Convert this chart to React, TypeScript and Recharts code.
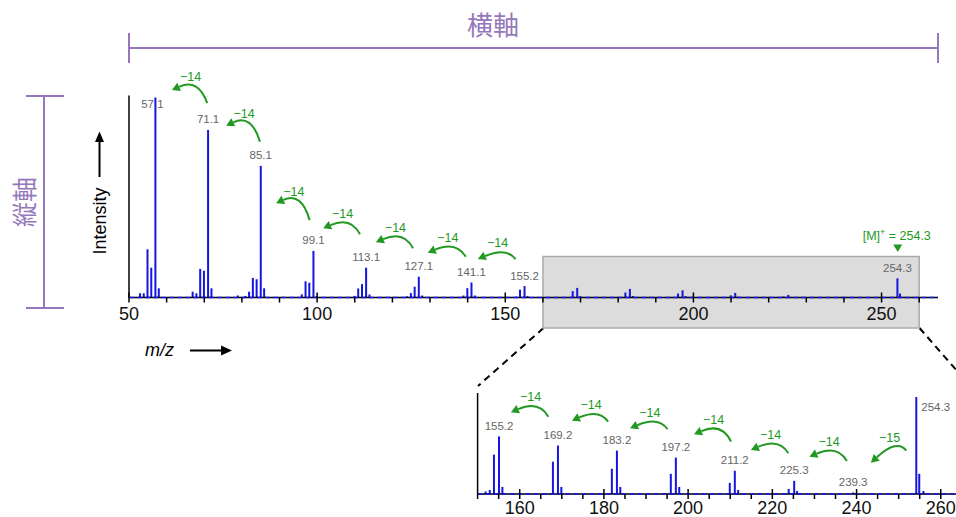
import React from "react";
import {
  ComposedChart,
  Bar,
  XAxis,
  YAxis,
  ReferenceLine,
  ReferenceArea,
  ReferenceDot,
  LabelList,
} from "recharts";

// peaks (m/z, relative intensity in %)
const peakMz = [
  53, 54, 55, 56, 57.1, 58, 67, 68, 69, 70, 71.1, 72, 79, 81, 82, 83, 84, 85.1, 86,
  96, 97, 98, 99.1, 100, 110, 111, 112, 113.1, 114, 124, 125, 126, 127.1, 128, 139,
  140, 141.1, 142, 152, 153, 154, 155.2, 156, 168, 169.2, 170, 182, 183.2, 184, 196,
  197.2, 198, 210, 211.2, 212, 224, 225.3, 226, 239.3, 254.3, 255, 256,
];
const peakIntensity = [
  2.1, 2.1, 24.1, 14.9, 100, 4.6, 2.9, 2.1, 14.3, 13.4, 83.8, 4.6, 1.0, 0.8, 2.9, 9.8,
  9.1, 65.8, 4.6, 1.6, 8.1, 7.4, 23.3, 0.8, 0.8, 4.5, 6.7, 14.9, 1.5, 0.6, 2.2, 5.4,
  10.4, 1.0, 1.0, 4.7, 7.5, 1.0, 0.25, 0.4, 3.9, 5.7, 0.7, 3.2, 4.8, 0.7, 2.5, 4.3,
  0.7, 2.0, 3.6, 0.7, 1.1, 2.3, 0.4, 0.5, 1.3, 0.3, 0.15, 9.6, 2.0, 0.3,
];

const mainLabelMz = [57.1, 71.1, 85.1, 99.1, 113.1, 127.1, 141.1, 155.2, 254.3];
const insetLabelMz = [155.2, 169.2, 183.2, 197.2, 211.2, 225.3, 239.3, 254.3];

const mainTicks = [50, 60, 70, 80, 90, 100, 110, 120, 130, 140, 150, 160, 170, 180, 190, 200, 210, 220, 230, 240, 250, 260];
const insetTicks = [150, 155, 160, 165, 170, 175, 180, 185, 190, 195, 200, 205, 210, 215, 220, 225, 230, 235, 240, 245, 250, 255, 260];

// CH2 loss arrows (right end -> arrow tip), main spectrum
const mainShiftFrom = [70.8, 84.8, 98.0, 111.4, 125.5, 139.5, 152.7];
const mainShiftTo = [61.4, 75.8, 89.1, 101.6, 115.6, 129.4, 142.7];
const mainShiftFromY = [97.2, 77.9, 38.7, 31.6, 24.6, 20.4, 19.2];
const mainShiftToY = [103.7, 85.9, 47.1, 34.6, 27.6, 22.4, 19.2];
const mainShiftText = ["\u221214", "\u221214", "\u221214", "\u221214", "\u221214", "\u221214", "\u221214"];

// same, zoomed inset
const insetShiftFrom = [166.8, 181.0, 195.1, 210.2, 223.8, 237.7, 251.8];
const insetShiftTo = [157.9, 172.4, 186.2, 201.4, 214.9, 228.8, 243.4];
const insetShiftFromY = [7.65, 7.16, 6.41, 5.18, 4.03, 3.27, 4.29];
const insetShiftToY = [8.09, 7.26, 6.5, 5.91, 4.36, 3.69, 3.1];
const insetShiftText = ["\u221214", "\u221214", "\u221214", "\u221214", "\u221214", "\u221214", "\u221215"];

const molecularIon = 254.3;
const markerLevel = 24.75;
const zoomRange = [160, 260];

const BLUE = "#1515e0";
const GREEN = "#229922";
const PURPLE = "#9478bb";
const GRAY_TEXT = "#666";

const mainData = peakMz.map((mz, i) => ({
  mz,
  intensity: peakIntensity[i],
  label: mainLabelMz.includes(mz) ? mz.toFixed(1) : undefined,
}));

const insetData = peakMz
  .map((mz, i) => ({
    mz,
    intensity: peakIntensity[i],
    label: insetLabelMz.includes(mz) ? mz.toFixed(1) : undefined,
  }))
  .filter((d) => d.mz >= 150);

function CurvedArrow(props: any) {
  const { x1, y1, x2, y2, text } = props;
  const cx = x1 - 0.25 * (x1 - x2);
  const cy = Math.min(y1, y2) - 12;
  const dx = x2 - cx;
  const dy = y2 - cy;
  const len = Math.hypot(dx, dy) || 1;
  const ux = dx / len;
  const uy = dy / len;
  const bx = x2 - ux * 8;
  const by = y2 - uy * 8;
  const midY = 0.25 * y1 + 0.5 * cy + 0.25 * y2;
  return (
    <g>
      <path d={`M${x1},${y1} Q${cx},${cy} ${bx},${by}`} fill="none" stroke={GREEN} strokeWidth={2} />
      <polygon
        points={`${x2},${y2} ${bx - uy * 4.5},${by + ux * 4.5} ${bx + uy * 4.5},${by - ux * 4.5}`}
        fill={GREEN}
      />
      <text x={(x1 + x2) / 2 + 1} y={midY - 6} textAnchor="middle" fontSize={12.5} fill={GREEN}>
        {text}
      </text>
    </g>
  );
}

const makeLabel = (tallLimit: number, side: boolean) => (props: any) => {
  const vb = props.viewBox ?? props;
  const { x, y, width, height } = vb;
  const value = props.value;
  if (value === undefined || value === null || value === "") return null;
  const cx = x + width / 2;
  if (height > tallLimit) {
    if (side) {
      return (
        <text x={cx + 5} y={y + 14} fontSize={11.5} fill={GRAY_TEXT}>
          {value}
        </text>
      );
    }
    return (
      <text x={cx - 3} y={y + 10} textAnchor="middle" fontSize={11.5} fill={GRAY_TEXT}>
        {value}
      </text>
    );
  }
  return (
    <text x={cx} y={y - 6.5} textAnchor="middle" fontSize={11.5} fill={GRAY_TEXT}>
      {value}
    </text>
  );
};

const makeTick = (labelEvery: number, labelGap: number) => (props: any) => {
  const { x, y, payload } = props;
  const v = payload.value;
  const major = v % labelEvery === 0;
  return (
    <g>
      <line x1={x} x2={x} y1={major ? y - 5 : y} y2={y + 5} stroke="#000" strokeWidth={1.5} />
      {major && (
        <text x={x} y={y + labelGap} textAnchor="middle" fontSize={18} fill="#111">
          {v}
        </text>
      )}
    </g>
  );
};

function MarkerShape(props: any) {
  const { cx, cy } = props;
  return (
    <g>
      <polygon points={`${cx - 4.5},${cy - 3.5} ${cx + 4.5},${cy - 3.5} ${cx},${cy + 4}`} fill={GREEN} />
      <text x={cx - 1} y={cy - 8} textAnchor="middle" fontSize={12.5} fill={GREEN}>
        [M]
        <tspan fontSize={9} dy={-5}>+</tspan>
        <tspan dy={5}> = {molecularIon.toFixed(1)}</tspan>
      </text>
    </g>
  );
}

export default function App() {
  return (
    <div
      style={{
        position: "absolute",
        left: 0,
        top: 0,
        width: 956,
        height: 517,
        overflow: "hidden",
        background: "#fff",
        fontFamily: "'Liberation Sans', Arial, sans-serif",
      }}
    >
      <svg width={956} height={517} style={{ position: "absolute", left: 0, top: 0 }}>
        <text x={493} y={35} textAnchor="middle" fontSize={26} fill={PURPLE} fontFamily="'Noto Sans CJK JP'">
          横軸
        </text>
        <line x1={129} y1={48} x2={938} y2={48} stroke={PURPLE} strokeWidth={2} />
        <line x1={129} y1={33} x2={129} y2={63} stroke={PURPLE} strokeWidth={2} />
        <line x1={938} y1={33} x2={938} y2={63} stroke={PURPLE} strokeWidth={2} />

        <line x1={44} y1={96} x2={44} y2={308} stroke={PURPLE} strokeWidth={2} />
        <line x1={26} y1={96} x2={64} y2={96} stroke={PURPLE} strokeWidth={2} />
        <line x1={26} y1={308} x2={64} y2={308} stroke={PURPLE} strokeWidth={2} />
        <text
          transform="translate(22.5,202) rotate(-90)"
          textAnchor="middle"
          dominantBaseline="central"
          fontSize={25}
          fill={PURPLE}
          fontFamily="'Noto Sans CJK JP'"
        >
          縦軸
        </text>

        <text transform="translate(106,221) rotate(-90)" textAnchor="middle" fontSize={18} fill="#000">
          Intensity
        </text>
        <line x1={99.5} y1={177} x2={99.5} y2={140} stroke="#000" strokeWidth={2} />
        <polygon points="99.5,131.5 95,142 104,142" fill="#000" />

        <text x={145} y={356} fontSize={18} fontStyle="italic" fill="#000">
          m/z
        </text>
        <line x1={190} y1={350.5} x2={223} y2={350.5} stroke="#000" strokeWidth={2} />
        <polygon points="232,350.5 221,345.5 221,355.5" fill="#000" />

        <line x1={543.5} y1={328} x2={478} y2={386} stroke="#000" strokeWidth={2} strokeDasharray="7 5" />
        <line x1={919.5} y1={328} x2={965} y2={380} stroke="#000" strokeWidth={2} strokeDasharray="7 5" />
      </svg>

      <div style={{ position: "absolute", left: 0, top: 0 }}>
        <ComposedChart
          width={956}
          height={517}
          data={mainData}
          margin={{ top: 95.5, right: 18, bottom: 189.5, left: 128 }}
        >
          <ReferenceArea
            x1={zoomRange[0]}
            x2={zoomRange[1]}
            y1={-15.25}
            y2={20.5}
            fill="#dcdcdc"
            fillOpacity={1}
            stroke="#aaaaaa"
            strokeWidth={1.5}
            ifOverflow="visible"
          />
          <XAxis
            type="number"
            dataKey="mz"
            domain={[50, 265]}
            ticks={mainTicks}
            interval={0}
            height={30}
            tickSize={0}
            tickMargin={0}
            tickLine={false}
            axisLine={{ stroke: "#000", strokeWidth: 1.5 }}
            tick={makeTick(50, 22)}
          />
          <YAxis
            type="number"
            domain={[0, 101]}
            width={1}
            tick={false}
            tickLine={false}
            axisLine={{ stroke: "#000", strokeWidth: 1.5 }}
          />
          <Bar dataKey="intensity" fill={BLUE} barSize={2} isAnimationActive={false}>
            <LabelList dataKey="label" content={makeLabel(190, false)} />
          </Bar>
          <ReferenceLine
            y={0}
            stroke={BLUE}
            strokeWidth={1.5}
            strokeDasharray="5 3"
            zIndex={600}
          />
          {mainShiftFrom.map((from, i) => (
            <ReferenceLine
              key={`ms-${i}`}
              segment={[
                { x: from, y: mainShiftFromY[i] },
                { x: mainShiftTo[i], y: mainShiftToY[i] },
              ]}
              ifOverflow="visible"
              shape={(p: any) => <CurvedArrow {...p} text={mainShiftText[i]} />}
            />
          ))}
          <ReferenceDot
            x={molecularIon}
            y={markerLevel}
            ifOverflow="visible"
            shape={(p: any) => <MarkerShape {...p} />}
          />
        </ComposedChart>
      </div>

      <div style={{ position: "absolute", left: 440, top: 360 }}>
        <ComposedChart
          width={540}
          height={157}
          data={insetData}
          margin={{ top: 33, right: 22.4, bottom: 0, left: 36.6 }}
        >
          <XAxis
            type="number"
            dataKey="mz"
            domain={[150, 264]}
            ticks={insetTicks}
            interval={0}
            height={23}
            tickSize={0}
            tickMargin={0}
            tickLine={false}
            axisLine={{ stroke: "#000", strokeWidth: 1.5 }}
            tick={makeTick(20, 19.5)}
          />
          <YAxis
            type="number"
            domain={[0, 10]}
            width={1}
            tick={false}
            tickLine={false}
            axisLine={{ stroke: "#000", strokeWidth: 1.5 }}
          />
          <Bar dataKey="intensity" fill={BLUE} barSize={2} isAnimationActive={false}>
            <LabelList dataKey="label" content={makeLabel(90, true)} />
          </Bar>
          <ReferenceLine
            y={0}
            stroke={BLUE}
            strokeWidth={1.5}
            strokeDasharray="5 3"
            zIndex={600}
          />
          {insetShiftFrom.map((from, i) => (
            <ReferenceLine
              key={`is-${i}`}
              segment={[
                { x: from, y: insetShiftFromY[i] },
                { x: insetShiftTo[i], y: insetShiftToY[i] },
              ]}
              ifOverflow="visible"
              shape={(p: any) => <CurvedArrow {...p} text={insetShiftText[i]} />}
            />
          ))}
        </ComposedChart>
      </div>
    </div>
  );
}
